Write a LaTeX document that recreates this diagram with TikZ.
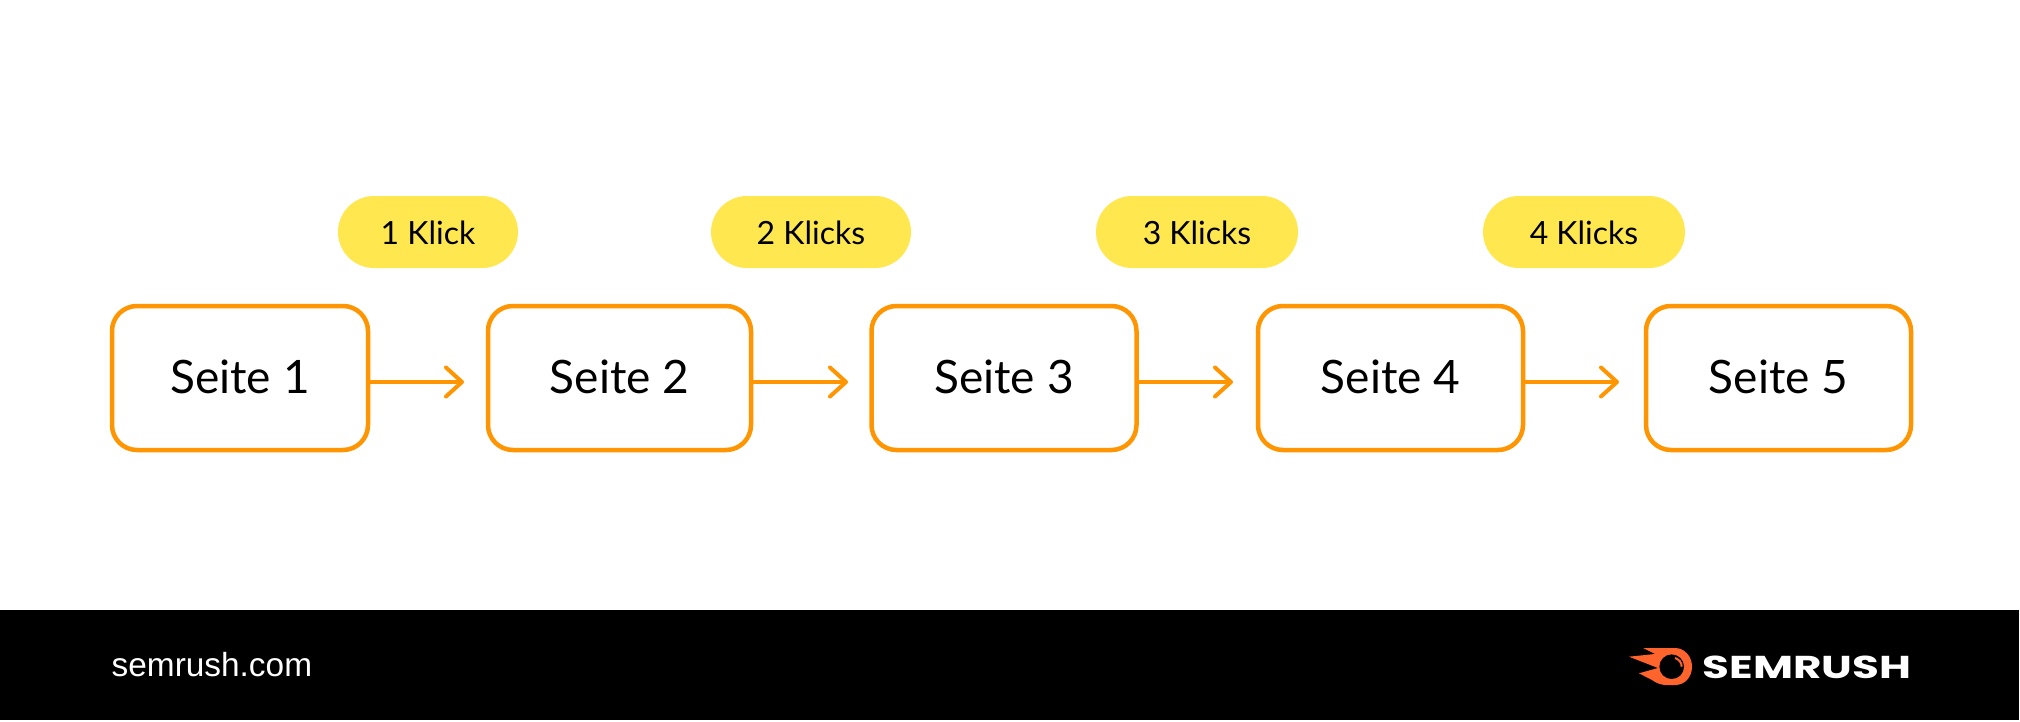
\documentclass[tikz,border=0pt]{standalone}
\usepackage{fontspec}
\setmainfont{Lato}
\newfontfamily\footfont{Liberation Sans}
\newfontfamily\brandfont{Poppins}
\usetikzlibrary{arrows.meta}
\definecolor{frameorange}{HTML}{FF9500}
\definecolor{pillyellow}{HTML}{FFE84F}
\definecolor{logoorange}{HTML}{FF642D}
\tikzset{
  page/.style={draw=frameorange, line width=0.045cm, fill=white, rounded corners=0.25cm, minimum width=2.56cm, minimum height=1.44cm, inner sep=0pt, text height=0.30cm, text depth=0cm, font=\fontsize{13.1pt}{15pt}\selectfont},
  klicks/.style={fill=pillyellow, rounded corners=0.36cm, minimum height=0.72cm, inner sep=0pt, text height=0.24cm, text depth=0cm, font=\fontsize{9.1pt}{11pt}\selectfont},
  hop/.style={draw=frameorange, line width=0.04cm, -{Straight Barb[length=0.16cm, width=0.29cm, round]}}
}
\begin{document}
\begin{tikzpicture}
  \useasboundingbox (0,0) rectangle (20.2,7.21);
  \fill[white] (0,0) rectangle (20.2,7.21);
  \fill[black] (0,0.01) rectangle (20.19,1.11);

  \node[page] (page1) at (2.40,3.43) {Seite 1};
  \node[page, minimum width=2.63cm] (page2) at (6.195,3.43) {Seite 2};
  \node[page, minimum width=2.65cm] (page3) at (10.04,3.43) {Seite 3};
  \node[page, minimum width=2.65cm] (page4) at (13.905,3.43) {Seite 4};
  \node[page, minimum width=2.65cm] (page5) at (17.785,3.43) {Seite 5};

  \node[klicks, minimum width=1.80cm] (klick1) at (4.28,4.89) {1 Klick};
  \node[klicks, minimum width=2.00cm] (klick2) at (8.11,4.89) {2 Klicks};
  \node[klicks, minimum width=2.02cm] (klick3) at (11.97,4.89) {3 Klicks};
  \node[klicks, minimum width=2.02cm] (klick4) at (15.84,4.89) {4 Klicks};

  \coordinate (tip1) at (4.64,3.39);
  \coordinate (tip2) at (8.48,3.39);
  \coordinate (tip3) at (12.33,3.39);
  \coordinate (tip4) at (16.19,3.39);
  \draw[hop] (page1.east |- tip1) -- (tip1);
  \draw[hop] (page2.east |- tip2) -- (tip2);
  \draw[hop] (page3.east |- tip3) -- (tip3);
  \draw[hop] (page4.east |- tip4) -- (tip4);

  \node[anchor=base west, inner sep=0pt, text=white, font=\footfont\fontsize{9.5pt}{11pt}\selectfont] (site) at (1.11,0.45) {semrush.com};
  \node[anchor=base west, inner sep=0pt, text=white, xscale=1.38, font=\brandfont\bfseries\fontsize{9pt}{11pt}\selectfont] (brand) at (17.02,0.43) {SEMRUSH};

  \fill[logoorange] (16.43,0.73) -- (16.75,0.73) .. controls (16.85,0.73) and (16.92,0.64) .. (16.92,0.545)
    .. controls (16.92,0.44) and (16.85,0.36) .. (16.75,0.36) -- (16.66,0.36) .. controls (16.61,0.36) and (16.56,0.38) .. (16.52,0.41)
    -- (16.39,0.477) -- (16.58,0.53) -- (16.29,0.643) -- (16.55,0.67) -- cycle;
  \fill[black] (16.717,0.543) circle (0.123);
  \draw[logoorange, line width=0.02cm] (16.75,0.63) arc (75:0:0.09);
\end{tikzpicture}
\end{document}
